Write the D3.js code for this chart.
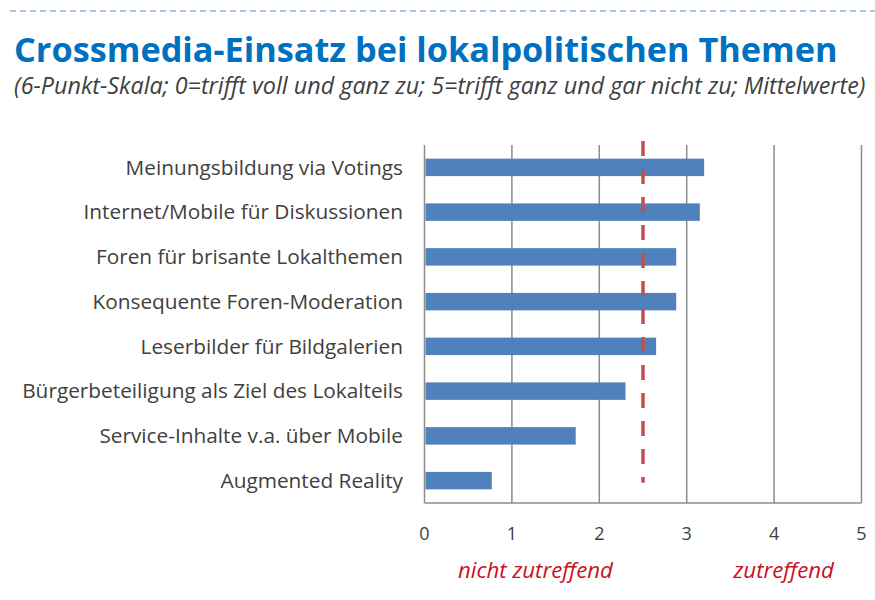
<!DOCTYPE html>
<html>
<head>
<meta charset="utf-8">
<script src="https://cdn.jsdelivr.net/npm/d3@7"></script>
<style>
  body { margin: 0; background: #fff; }
  svg { display: block; font-family: "Open Sans", sans-serif; }
</style>
</head>
<body>
<svg id="chart" width="875" height="600"></svg>
<script>
// data
var categories = [
  "Meinungsbildung via Votings",
  "Internet/Mobile für Diskussionen",
  "Foren für brisante Lokalthemen",
  "Konsequente Foren-Moderation",
  "Leserbilder für Bildgalerien",
  "Bürgerbeteiligung als Ziel des Lokalteils",
  "Service-Inhalte v.a. über Mobile",
  "Augmented Reality"
];
var values = [3.20, 3.15, 2.88, 2.88, 2.65, 2.30, 1.73, 0.77];
var xTicks = [0, 1, 2, 3, 4, 5];
var midpoint = 2.5;
var scaleLabels = [
  { text: "nicht zutreffend", at: 1.27 },
  { text: "zutreffend", at: 4.11 }
];
var title = "Crossmedia-Einsatz bei lokalpolitischen Themen";
var subtitle = "(6-Punkt-Skala; 0=trifft voll und ganz zu; 5=trifft ganz und gar nicht zu; Mittelwerte)";

var svg = d3.select("#chart");

// scale a text element's font so that it spans the given width
function fitWidth(sel, w) {
  var fs = parseFloat(sel.style("font-size"));
  var len = sel.node().getComputedTextLength();
  sel.style("font-size", (fs * w / len) + "px");
}

// dashed rule on top
svg.append("line")
  .attr("x1", 10).attr("x2", 875)
  .attr("y1", 11).attr("y2", 11)
  .attr("stroke", "#8db3e2")
  .attr("stroke-width", 1.5)
  .attr("stroke-dasharray", "6,4");

var t = svg.append("text")
  .attr("x", 14).attr("y", 62)
  .attr("fill", "#0070c0")
  .style("font-weight", "bold")
  .style("font-size", "34px")
  .text(title);
fitWidth(t, 824);

var st = svg.append("text")
  .attr("x", 14).attr("y", 94)
  .attr("fill", "#404040")
  .style("font-style", "italic")
  .style("font-size", "17px")
  .text(subtitle);
fitWidth(st, 852);

var x = d3.scaleLinear().domain([0, 5]).range([424.5, 861.5]);
var y = d3.scaleBand().domain(categories).range([145, 503])
  .paddingInner(0.61).paddingOuter(0.305);

// gridlines
svg.append("g").selectAll("line")
  .data(xTicks)
  .enter().append("line")
  .attr("x1", function(d) { return x(d); })
  .attr("x2", function(d) { return x(d); })
  .attr("y1", 145).attr("y2", 503)
  .attr("stroke", "#8c8c8c")
  .attr("stroke-width", 1.5);

// bottom axis line
svg.append("line")
  .attr("x1", x(0)).attr("x2", x(5))
  .attr("y1", 503).attr("y2", 503)
  .attr("stroke", "#8c8c8c")
  .attr("stroke-width", 1.5);

// bars
svg.append("g").selectAll("rect")
  .data(values)
  .enter().append("rect")
  .attr("x", x(0) + 1)
  .attr("y", function(d, i) { return y(categories[i]); })
  .attr("width", function(d) { return x(d) - x(0) - 1; })
  .attr("height", y.bandwidth())
  .attr("fill", "#4f81bd");

// midpoint line
svg.append("line")
  .attr("x1", x(midpoint)).attr("x2", x(midpoint))
  .attr("y1", 141)
  .attr("y2", y(categories[categories.length - 1]) + y.bandwidth() / 2 + 2)
  .attr("stroke", "#c0504d")
  .attr("stroke-width", 3.5)
  .attr("stroke-dasharray", "15,13");

// category labels
var labels = svg.append("g").selectAll("text")
  .data(categories)
  .enter().append("text")
  .attr("x", 403)
  .attr("y", function(d) { return y(d) + y.bandwidth() / 2; })
  .attr("dy", "0.35em")
  .attr("text-anchor", "end")
  .attr("fill", "#404040")
  .style("font-size", "17px")
  .text(function(d) { return d; });
var longest = labels.filter(function(d) { return d === categories[5]; });
var lfs = parseFloat(longest.style("font-size")) * 381 / longest.node().getComputedTextLength();
labels.style("font-size", lfs + "px");

// tick labels
svg.append("g").selectAll("text")
  .data(xTicks)
  .enter().append("text")
  .attr("x", function(d) { return x(d); })
  .attr("y", 534)
  .attr("dy", "0.35em")
  .attr("text-anchor", "middle")
  .attr("fill", "#404040")
  .style("font-size", "18px")
  .text(function(d) { return d; });

var sl = svg.append("g").selectAll("text")
  .data(scaleLabels)
  .enter().append("text")
  .attr("x", function(d) { return x(d.at); })
  .attr("y", 570)
  .attr("dy", "0.35em")
  .attr("text-anchor", "middle")
  .attr("fill", "#c8101e")
  .style("font-style", "italic")
  .style("font-size", "16px")
  .text(function(d) { return d.text; });
var first = sl.filter(function(d, i) { return i === 0; });
var sfs = 16 * 155 / first.node().getComputedTextLength();
sl.style("font-size", sfs + "px");
</script>
</body>
</html>
